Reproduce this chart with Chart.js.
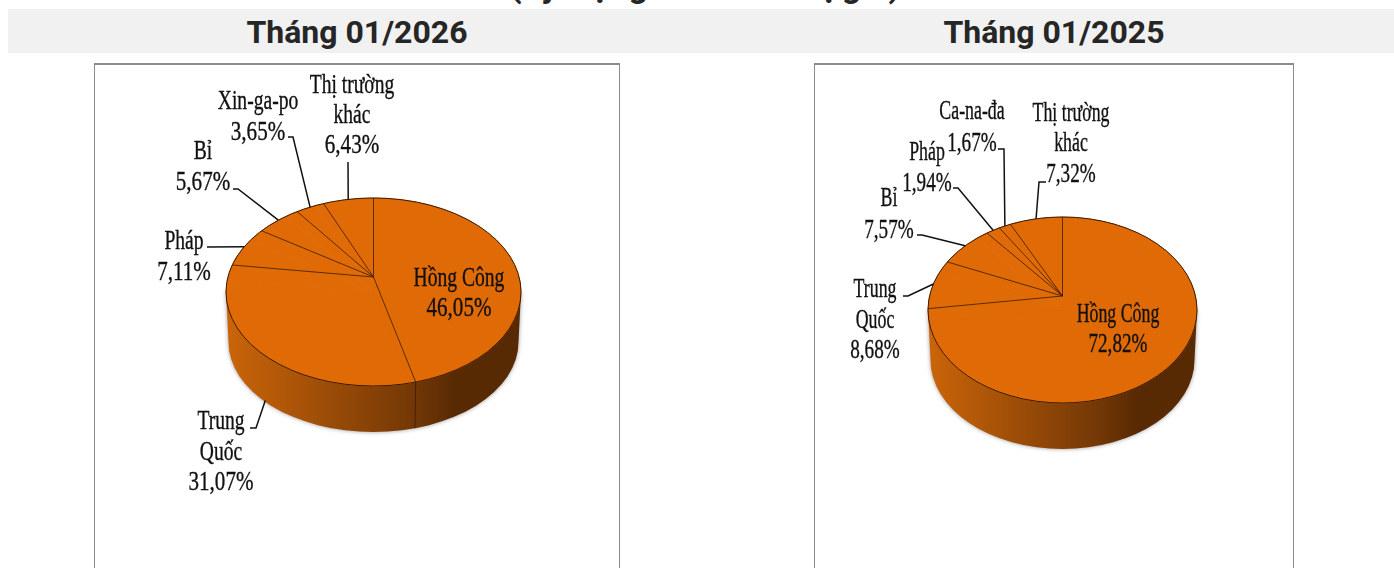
<!DOCTYPE html>
<html lang="vi">
<head>
<meta charset="utf-8">
<script src="https://cdn.jsdelivr.net/npm/chart.js@4"></script>
<style>
  html, body { margin: 0; width: 1394px; height: 568px; overflow: hidden; background: #fff; }
  .head { position: absolute; white-space: nowrap; font: bold 32px Roboto, sans-serif; color: #262626; text-align: center; }
  #band { position: absolute; left: 8px; top: 9px; width: 1386px; height: 44px; background: #f1f1f1; }
  .panel { position: absolute; top: 63px; height: 700px; border: 2px solid #8c8c8c; border-width: 2px 1px 1px 1px; box-sizing: border-box; }
  canvas { position: absolute; top: 0; left: 0; }
</style>
</head>
<body>
<div class="head" style="left:355px;width:700px;top:-35px;font-size:34px">(Tỷ trọng tính theo trị giá)</div>
<div id="band"></div>
<div class="head" style="left:57px;width:600px;top:13px">Tháng 01/2026</div>
<div class="head" style="left:754px;width:600px;top:13px">Tháng 01/2025</div>
<div class="panel" style="left:94px;width:526px"><canvas id="pie2026"></canvas></div>
<div class="panel" style="left:814px;width:480px"><canvas id="pie2025"></canvas></div>

<script>
// du lieu doc tu hinh
var categories2026 = ['Hồng Công', 'Trung Quốc', 'Pháp', 'Bỉ', 'Xin-ga-po', 'Thị trường khác'];
var values2026 = [46.05, 31.07, 7.11, 5.67, 3.65, 6.43];
var categories2025 = ['Hồng Công', 'Trung Quốc', 'Bỉ', 'Pháp', 'Ca-na-đa', 'Thị trường khác'];
var values2025 = [72.82, 8.68, 7.57, 1.94, 1.67, 7.32];

// vi tri nhan va duong dan (toa do trang), khong phai du lieu
var labels2026 = [
  { x: 459, y: [279, 309], wrap: false },
  { x: 221, y: [422, 453, 483], wrap: true, onWall: true, elbow: [[250, 428], [256, 428]] },
  { x: 184, y: [242, 273], elbow: [[207, 247]] },
  { x: 203, y: [152, 183], elbow: [[233, 189], [238, 189]] },
  { x: 258, y: [102, 133], elbow: [[288, 137], [293, 137]] },
  { x: 352, y: [86, 116, 146], wrap: true, elbow: [[348, 162]] }
];
var labels2025 = [
  { x: 1118, y: [315, 345], wrap: false },
  { x: 875, y: [290, 321, 351], wrap: true, elbow: [[903, 296], [908, 296]] },
  { x: 889, y: [199, 231], elbow: [[917, 235], [922, 235]] },
  { x: 927, y: [153, 184], elbow: [[953, 188], [958, 188]] },
  { x: 972, y: [112, 144], elbow: [[998, 149], [1004, 149]] },
  { x: 1071, y: [114, 144, 175], wrap: true, elbow: [[1046, 182], [1039, 182]] }
];

var faceColor = '#e06a06';
var edgeColor = '#3a1c02';

// mat nghieng 3D: ve elip + thanh ben, duong chia theo phoi canh
var tiltPlugin = {
  id: 'tilt',
  beforeDatasetsDraw: function(chart, args, o) {
    var ctx = chart.ctx;
    var arc = chart.getDatasetMeta(0).data[0];
    var cx = arc.x, cy = arc.y, R = arc.outerRadius;
    var ry = (o.far + o.near) / 2;
    var Rb = R - 2.5, ryb = ry - 4;
    var cyb = cy + o.depth + ry - ryb;
    var grad = ctx.createLinearGradient(cx - R, 0, cx + R, 0);
    grad.addColorStop(0, '#cb6509');
    grad.addColorStop(0.63, '#743806');
    grad.addColorStop(0.78, '#572a04');
    grad.addColorStop(1, '#572a04');
    ctx.save();
    ctx.shadowColor = 'rgba(0,0,0,0.4)';
    ctx.shadowBlur = 4;
    ctx.beginPath();
    ctx.moveTo(cx - R, cy);
    ctx.lineTo(cx - Rb, cyb);
    ctx.ellipse(cx, cyb, Rb, ryb, 0, Math.PI, 0, true);
    ctx.lineTo(cx + R, cy);
    ctx.closePath();
    ctx.fillStyle = grad;
    ctx.fill();
    ctx.restore();
    ctx.save();
    ctx.translate(cx, cy);
    ctx.scale(1, ry / R);
    ctx.translate(-cx, -cy);
  },
  afterDatasetsDraw: function(chart, args, o) {
    var ctx = chart.ctx;
    ctx.restore();
    var arcs = chart.getDatasetMeta(0).data;
    var cx = arcs[0].x, cy = arcs[0].y, R = arcs[0].outerRadius;
    var ry = (o.far + o.near) / 2;
    var apexY = cy - ry + o.far;
    var k = (o.near - o.far) / (o.near + o.far);
    var b = o.near * (1 - k);
    var a = R * Math.sqrt(1 - k * k);

    function rim(angle) {
      var t = angle + Math.PI / 2;
      var u = Math.sin(t), v = -Math.cos(t), d = 1 - k * v;
      return { x: cx + a * u / d, y: apexY + b * v / d, v: v };
    }
    function lower(p) {
      return { x: cx + (p.x - cx) * (R - 2.5) / R, y: p.y + o.depth };
    }

    // vien elip tren
    ctx.save();
    ctx.strokeStyle = edgeColor;
    ctx.lineWidth = 1;
    ctx.beginPath();
    ctx.ellipse(cx, cy, R, ry, 0, 0, Math.PI * 2);
    ctx.stroke();

    // duong chia cac lat
    ctx.lineWidth = 0.8;
    arcs.forEach(function(arc) {
      var p = rim(arc.startAngle);
      ctx.beginPath();
      ctx.moveTo(cx, apexY);
      ctx.lineTo(p.x, p.y);
      if (p.v > 0.3) {
        var q = lower(p);
        ctx.moveTo(p.x, p.y);
        ctx.lineTo(q.x, q.y);
      }
      ctx.stroke();
    });
    ctx.restore();

    // duong dan + nhan (toa do trang -> canvas)
    var box = chart.canvas.getBoundingClientRect();
    ctx.save();
    ctx.translate(-box.left, -box.top);
    ctx.strokeStyle = '#111';
    ctx.fillStyle = '#111';
    ctx.textAlign = 'center';
    ctx.textBaseline = 'middle';
    ctx.font = '27px "Liberation Serif", serif';
    arcs.forEach(function(arc, i) {
      var lab = o.labels[i];
      if (lab.elbow) {
        var end = rim((arc.startAngle + arc.endAngle) / 2);
        if (lab.onWall) end = lower(end);
        ctx.lineWidth = 1.5;
        ctx.beginPath();
        lab.elbow.forEach(function(pt, j) {
          if (j == 0) ctx.moveTo(pt[0], pt[1]);
          else ctx.lineTo(pt[0], pt[1]);
        });
        ctx.lineTo(end.x + box.left, end.y + box.top);
        ctx.stroke();
      }
      var name = chart.data.labels[i];
      var lines = [name];
      if (lab.wrap) {
        var cut = name.lastIndexOf(' ');
        lines = [name.slice(0, cut), name.slice(cut + 1)];
      }
      var nameCount = lines.length;
      lines.push(chart.data.datasets[0].data[i].toFixed(2).replace('.', ',') + '%');
      lines.forEach(function(txt, j) {
        ctx.save();
        ctx.translate(lab.x, lab.y[j]);
        ctx.scale(j < nameCount ? o.squeezeName : o.squeezeValue, 1);
        ctx.lineWidth = 0.35;
        ctx.fillText(txt, 0, 0);
        ctx.strokeText(txt, 0, 0);
        ctx.restore();
      });
    });
    ctx.restore();
  }
};

function drawPie(id, w, h, padding, categories, values, labels, geo) {
  var canvas = document.getElementById(id);
  canvas.width = w;
  canvas.height = h;
  new Chart(canvas, {
    type: 'pie',
    plugins: [tiltPlugin],
    data: {
      labels: categories,
      datasets: [{ data: values, backgroundColor: faceColor, borderColor: faceColor, borderWidth: 1 }]
    },
    options: {
      responsive: false,
      animation: false,
      layout: { padding: padding },
      plugins: {
        legend: { display: false },
        tooltip: { enabled: false },
        tilt: { far: geo.far, near: geo.near, depth: geo.depth, squeezeName: geo.squeezeName, squeezeValue: geo.squeezeValue, labels: labels }
      }
    }
  });
}

drawPie('pie2026', 524, 503, { left: 130.5, right: 97.5, top: 79, bottom: 128 },
  categories2026, values2026, labels2026, { far: 79, near: 109, depth: 46, squeezeName: 0.725, squeezeValue: 0.78 });
drawPie('pie2025', 478, 503, { left: 112.5, right: 95.5, top: 110, bottom: 123 },
  categories2025, values2025, labels2025, { far: 79, near: 107, depth: 46, squeezeName: 0.66, squeezeValue: 0.71 });
</script>
</body>
</html>
